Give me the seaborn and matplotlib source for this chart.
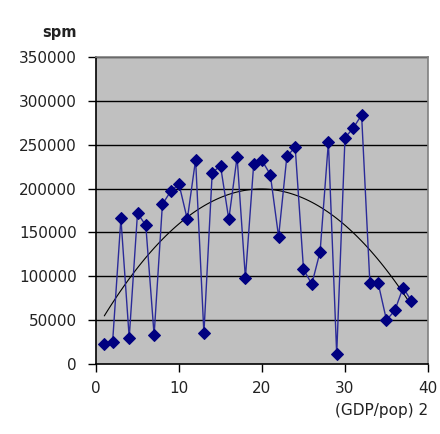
"""
spm vs (GDP/pop)^2 with quadratic trend
"""

import pandas as pd
import numpy as np
import matplotlib
matplotlib.use("Agg")
import matplotlib.pyplot as plt
import seaborn as sns

sns.set_theme(style="white")
plt.rcParams['font.family'] = ['DejaVu Sans']

# ============================================================
# Data
# ============================================================

x_vals = list(range(1, 39))
spm_vals = [
    23000, 25000, 166000, 30000, 172000, 158000, 33000, 182000, 197000, 205000,
    165000, 233000, 35000, 218000, 226000, 165000, 236000, 98000, 228000, 232000,
    216000, 145000, 237000, 247000, 108000, 91000, 128000, 253000, 11000, 258000,
    269000, 284000, 92000, 92000, 50000, 61000, 87000, 72000,
]
y_ticks = [0, 50000, 100000, 150000, 200000, 250000, 300000, 350000]
x_ticks = [0, 10, 20, 30, 40]

df = pd.DataFrame({"x": x_vals, "spm": spm_vals})

# ============================================================
# Plot
# ============================================================

fig = plt.figure(figsize=(4.4, 4.34), dpi=100)
ax = fig.add_axes([0.2182, 0.1613, 0.7545, 0.7074])
ax.set_facecolor("#C0C0C0")

for yt in y_ticks[1:]:
    ax.axhline(yt, color="black", lw=1.0, zorder=1)

sns.lineplot(data=df, x="x", y="spm", ax=ax, color="#2a2a99", lw=1.0,
             marker="D", markersize=6.5, markerfacecolor="#000080",
             markeredgecolor="#000080", zorder=3)

# Excel-style 2nd order polynomial trendline
sns.regplot(data=df, x="x", y="spm", ax=ax, order=2, ci=None, scatter=False,
            line_kws={"color": "black", "lw": 0.8, "zorder": 2})

ax.set_xlim(0, 40)
ax.set_ylim(0, 350000)
ax.set_xticks(x_ticks)
ax.set_yticks(y_ticks)
ax.set_xticklabels([str(t) for t in x_ticks])
ax.set_yticklabels([str(t) for t in y_ticks])
ax.tick_params(axis="both", direction="out", length=6, width=1, color="black",
               labelsize=11, labelcolor="#222222", left=True, bottom=True)
ax.tick_params(axis="y", pad=8)
ax.tick_params(axis="x", pad=6)
ax.set_xlabel("")
ax.set_ylabel("")

for side in ["left", "bottom"]:
    ax.spines[side].set_color("black")
    ax.spines[side].set_linewidth(1.2)
for side in ["top", "right"]:
    ax.spines[side].set_color("#808080")
    ax.spines[side].set_linewidth(1.2)

fig.text(0.095, 0.925, "spm", fontsize=10.5, fontweight="bold", color="#222222",
         ha="left", va="center")
fig.text(0.972, 0.055, "(GDP/pop) 2", fontsize=11, color="#222222",
         ha="right", va="center")

plt.savefig("out.png", dpi=100)
